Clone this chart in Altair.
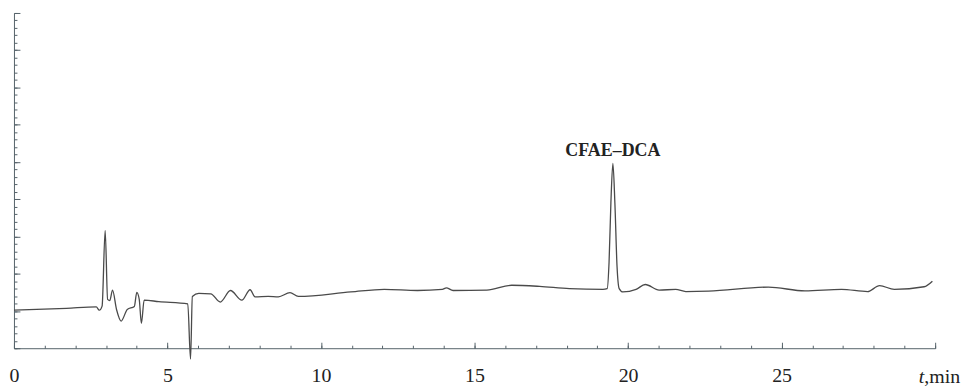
import altair as alt
import pandas as pd

# retention time (min) and detector signal (arbitrary units)
t_min = [0, 1.71, 2.68, 2.78, 2.87, 2.97, 3.05, 3.12, 3.21, 3.34, 3.49, 3.69, 3.92,
         4.00, 4.08, 4.15, 4.24, 4.72, 5.66, 5.75, 5.81, 6.02, 6.41, 6.72, 7.05,
         7.42, 7.69, 7.85, 8.28, 8.61, 8.99, 9.26, 10.97, 12.06, 13.14, 13.95,
         14.08, 14.30, 15.40, 16.21, 17.12, 18.09, 19.18, 19.32, 19.38, 19.44,
         19.505, 19.57, 19.64, 19.71, 19.83, 20.26, 20.56, 21.01, 21.55, 21.88,
         22.62, 24.57, 25.76, 26.95, 27.80, 28.19, 28.67, 29.64, 29.91]
signal = [1.02, 1.07, 1.11, 1.02, 1.13, 3.16, 1.31, 1.28, 1.56, 1.04, 0.73, 1.04, 1.12,
          1.50, 1.31, 0.67, 1.29, 1.25, 1.19, -0.29, 1.39, 1.47, 1.46, 1.24, 1.55,
          1.29, 1.57, 1.38, 1.39, 1.38, 1.49, 1.39, 1.51, 1.58, 1.55, 1.58,
          1.62, 1.55, 1.56, 1.69, 1.66, 1.60, 1.58, 1.60, 2.30, 3.90,
          4.96, 3.90, 2.20, 1.60, 1.51, 1.58, 1.71, 1.56, 1.58, 1.52,
          1.53, 1.64, 1.54, 1.58, 1.52, 1.68, 1.58, 1.65, 1.80]

peak_names = ["CFAE\u2013DCA"]
peak_t = [19.505]
peak_v = [4.96]

x_major = [0, 5, 10, 15, 20, 25, 30]
x_minor = list(range(0, 31))
y_major = list(range(0, 10))
y_minor = [i / 5 for i in range(0, 46)]

unit_t = [30]

df = pd.DataFrame({"t": t_min, "v": signal})
lab = pd.DataFrame({"t": peak_t, "v": peak_v, "label": peak_names})
unit = pd.DataFrame({"t": unit_t})

AX = "#56636a"
FONT = "Liberation Serif"

xs = alt.Scale(domain=[0, 30], nice=False, zero=False)
ys = alt.Scale(domain=[0, 9], nice=False, zero=False)

line = alt.Chart(df).mark_line(
    color="#4a4a4a", strokeWidth=1.3, clip=False, interpolate="monotone"
).encode(
    x=alt.X("t:Q", scale=xs, axis=alt.Axis(
        orient="bottom", values=x_major, tickSize={"expr": "-6"},
        labelExpr="datum.value == 30 ? '' : datum.label",
        labelFont=FONT, labelFontSize=20, labelColor="#222222",
        labelPadding=23, labelFlush=False, domainColor=AX, tickColor=AX,
        grid=False, title=None)),
    y=alt.Y("v:Q", scale=ys, axis=alt.Axis(
        orient="left", values=y_major, tickSize={"expr": "-6"}, labels=False,
        domainColor=AX, tickColor=AX, grid=False, title=None)),
)

label = alt.Chart(lab).mark_text(
    font=FONT, fontSize=18, fontWeight="bold", dy=-7, baseline="alphabetic",
    align="center", color="#222222"
).encode(
    x=alt.X("t:Q", scale=xs, axis=alt.Axis(
        orient="bottom", values=x_minor, tickSize={"expr": "-3"}, labels=False,
        domain=False, tickColor=AX, grid=False, title=None)),
    y=alt.Y("v:Q", scale=ys, axis=alt.Axis(
        orient="left", values=y_minor, tickSize={"expr": "-3"}, labels=False,
        domain=False, tickColor=AX, grid=False, title=None)),
    text="label:N",
)

unit_t_txt = alt.Chart(unit).mark_text(
    text="t", font=FONT, fontSize=20, fontStyle="italic", align="right",
    baseline="alphabetic", dx=-11, color="#222222"
).encode(x=alt.X("t:Q", scale=xs, axis=None), y=alt.value(372))

unit_min_txt = alt.Chart(unit).mark_text(
    text=",min", font=FONT, fontSize=20, align="left",
    baseline="alphabetic", dx=-11, color="#222222"
).encode(x=alt.X("t:Q", scale=xs, axis=None), y=alt.value(372))

chart = alt.layer(line, label, unit_t_txt, unit_min_txt).resolve_axis(
    x="independent", y="independent"
).properties(
    width=926, height=337,
    autosize=alt.AutoSizeParams(type="none"),
    padding={"left": 6, "top": 4, "right": 28, "bottom": 40},
    background="white",
).configure_view(stroke=None)

chart.save("out.html", embed_options={"renderer": "svg", "actions": False})
